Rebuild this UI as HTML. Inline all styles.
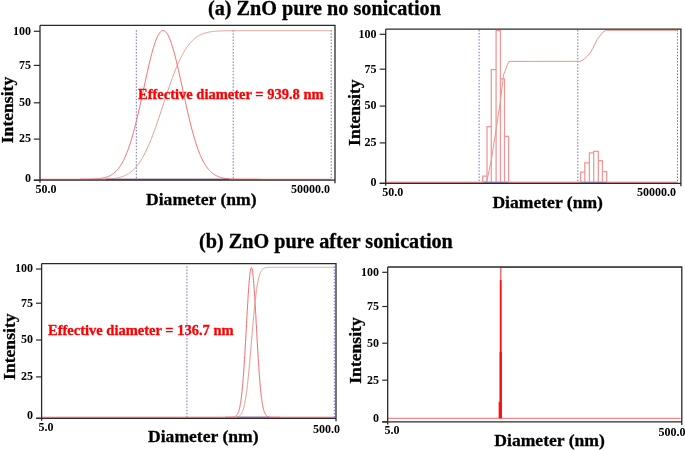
<!DOCTYPE html><html><head><meta charset="utf-8"><style>
html,body{margin:0;padding:0;background:#fff;width:685px;height:450px;overflow:hidden}
svg{display:block;will-change:transform} text{font-family:"Liberation Serif", serif;font-weight:bold;fill:#000;stroke:#000;stroke-width:0.3px}
.tk{font-size:12px;stroke-width:0}.ax{font-size:17.6px}.ti{font-size:20.2px}.ef{font-size:14.5px;fill:#fa0000;stroke:#fa0000}
</style></head><body>
<svg width="685" height="450" viewBox="0 0 685 450">
<text x="208" y="14.6" class="ti">(a) ZnO pure no sonication</text>
<text x="199" y="247.6" class="ti">(b) ZnO pure after sonication</text>
<line x1="136.3" y1="30.15" x2="136.3" y2="180" stroke="#6e6ec8" stroke-width="1" stroke-dasharray="1.5 1.62"/>
<line x1="233.2" y1="30.15" x2="233.2" y2="180" stroke="#6e6ec8" stroke-width="1" stroke-dasharray="1.5 1.62"/>
<line x1="331.2" y1="30.15" x2="331.2" y2="180" stroke="#6e6ec8" stroke-width="1" stroke-dasharray="1.5 1.62"/>
<line x1="40" y1="179.3" x2="331" y2="179.3" stroke="#f26a6a" stroke-width="1"/>
<path d="M80.0,179.28 L80.5,179.28 L81.0,179.28 L81.5,179.28 L82.0,179.27 L82.5,179.27 L83.0,179.27 L83.5,179.26 L84.0,179.26 L84.5,179.26 L85.0,179.25 L85.5,179.25 L86.0,179.24 L86.5,179.23 L87.0,179.23 L87.5,179.22 L88.0,179.21 L88.5,179.20 L89.0,179.19 L89.5,179.18 L90.0,179.17 L90.5,179.15 L91.0,179.14 L91.5,179.12 L92.0,179.11 L92.5,179.09 L93.0,179.07 L93.5,179.05 L94.0,179.02 L94.5,178.99 L95.0,178.97 L95.5,178.93 L96.0,178.90 L96.5,178.86 L97.0,178.82 L97.5,178.78 L98.0,178.73 L98.5,178.68 L99.0,178.63 L99.5,178.57 L100.0,178.51 L100.5,178.44 L101.0,178.37 L101.5,178.29 L102.0,178.20 L102.5,178.11 L103.0,178.01 L103.5,177.91 L104.0,177.79 L104.5,177.67 L105.0,177.54 L105.5,177.40 L106.0,177.25 L106.5,177.10 L107.0,176.93 L107.5,176.75 L108.0,176.55 L108.5,176.35 L109.0,176.13 L109.5,175.90 L110.0,175.65 L110.5,175.39 L111.0,175.11 L111.5,174.81 L112.0,174.50 L112.5,174.17 L113.0,173.81 L113.5,173.44 L114.0,173.05 L114.5,172.64 L115.0,172.20 L115.5,171.74 L116.0,171.25 L116.5,170.74 L117.0,170.20 L117.5,169.64 L118.0,169.04 L118.5,168.42 L119.0,167.77 L119.5,167.08 L120.0,166.36 L120.5,165.61 L121.0,164.83 L121.5,164.01 L122.0,163.16 L122.5,162.27 L123.0,161.34 L123.5,160.37 L124.0,159.37 L124.5,158.32 L125.0,157.24 L125.5,156.11 L126.0,154.95 L126.5,153.74 L127.0,152.48 L127.5,151.19 L128.0,149.85 L128.5,148.47 L129.0,147.05 L129.5,145.58 L130.0,144.07 L130.5,142.51 L131.0,140.91 L131.5,139.27 L132.0,137.59 L132.5,135.86 L133.0,134.09 L133.5,132.28 L134.0,130.43 L134.5,128.54 L135.0,126.62 L135.5,124.65 L136.0,122.65 L136.5,120.61 L137.0,118.54 L137.5,116.44 L138.0,114.31 L138.5,112.15 L139.0,109.97 L139.5,107.76 L140.0,105.53 L140.5,103.28 L141.0,101.01 L141.5,98.73 L142.0,96.44 L142.5,94.13 L143.0,91.82 L143.5,89.51 L144.0,87.20 L144.5,84.89 L145.0,82.58 L145.5,80.28 L146.0,78.00 L146.5,75.73 L147.0,73.48 L147.5,71.25 L148.0,69.05 L148.5,66.87 L149.0,64.73 L149.5,62.62 L150.0,60.56 L150.5,58.54 L151.0,56.56 L151.5,54.63 L152.0,52.76 L152.5,50.94 L153.0,49.18 L153.5,47.48 L154.0,45.85 L154.5,44.29 L155.0,42.80 L155.5,41.38 L156.0,40.04 L156.5,38.78 L157.0,37.61 L157.5,36.51 L158.0,35.50 L158.5,34.58 L159.0,33.75 L159.5,33.01 L160.0,32.37 L160.5,31.82 L161.0,31.36 L161.5,31.00 L162.0,30.74 L162.5,30.57 L163.0,30.50 L163.5,30.53 L164.0,30.66 L164.5,30.88 L165.0,31.20 L165.5,31.62 L166.0,32.14 L166.5,32.74 L167.0,33.45 L167.5,34.24 L168.0,35.12 L168.5,36.10 L169.0,37.16 L169.5,38.30 L170.0,39.53 L170.5,40.84 L171.0,42.22 L171.5,43.68 L172.0,45.22 L172.5,46.82 L173.0,48.49 L173.5,50.23 L174.0,52.02 L174.5,53.87 L175.0,55.78 L175.5,57.74 L176.0,59.74 L176.5,61.79 L177.0,63.88 L177.5,66.01 L178.0,68.17 L178.5,70.36 L179.0,72.58 L179.5,74.83 L180.0,77.09 L180.5,79.37 L181.0,81.66 L181.5,83.96 L182.0,86.27 L182.5,88.59 L183.0,90.90 L183.5,93.21 L184.0,95.52 L184.5,97.81 L185.0,100.10 L185.5,102.38 L186.0,104.63 L186.5,106.87 L187.0,109.09 L187.5,111.28 L188.0,113.45 L188.5,115.59 L189.0,117.71 L189.5,119.79 L190.0,121.84 L190.5,123.85 L191.0,125.83 L191.5,127.78 L192.0,129.68 L192.5,131.55 L193.0,133.37 L193.5,135.16 L194.0,136.90 L194.5,138.60 L195.0,140.26 L195.5,141.88 L196.0,143.45 L196.5,144.98 L197.0,146.47 L197.5,147.91 L198.0,149.31 L198.5,150.66 L199.0,151.97 L199.5,153.24 L200.0,154.47 L200.5,155.65 L201.0,156.79 L201.5,157.89 L202.0,158.95 L202.5,159.98 L203.0,160.96 L203.5,161.90 L204.0,162.81 L204.5,163.67 L205.0,164.51 L205.5,165.31 L206.0,166.07 L206.5,166.80 L207.0,167.50 L207.5,168.16 L208.0,168.80 L208.5,169.40 L209.0,169.98 L209.5,170.53 L210.0,171.05 L210.5,171.55 L211.0,172.02 L211.5,172.46 L212.0,172.89 L212.5,173.29 L213.0,173.67 L213.5,174.03 L214.0,174.37 L214.5,174.69 L215.0,174.99 L215.5,175.28 L216.0,175.55 L216.5,175.80 L217.0,176.04 L217.5,176.26 L218.0,176.47 L218.5,176.67 L219.0,176.86 L219.5,177.03 L220.0,177.19 L220.5,177.35 L221.0,177.49 L221.5,177.62 L222.0,177.75 L222.5,177.86 L223.0,177.97 L223.5,178.07 L224.0,178.17 L224.5,178.25 L225.0,178.34 L225.5,178.41 L226.0,178.48 L226.5,178.55 L227.0,178.61 L227.5,178.66 L228.0,178.71 L228.5,178.76 L229.0,178.81 L229.5,178.85 L230.0,178.89 L230.5,178.92 L231.0,178.95 L231.5,178.98 L232.0,179.01 L232.5,179.04 L233.0,179.06 L233.5,179.08 L234.0,179.10 L234.5,179.12 L235.0,179.13 L235.5,179.15 L236.0,179.16 L236.5,179.18 L237.0,179.19 L237.5,179.20 L238.0,179.21 L238.5,179.22 L239.0,179.22 L239.5,179.23 L240.0,179.24 L240.5,179.24 L241.0,179.25 L241.5,179.25 L242.0,179.26 L242.5,179.26 L243.0,179.27 L243.5,179.27 L244.0,179.27 L244.5,179.28 L245.0,179.28 L245.5,179.28 L246.0,179.28 L246.5,179.28 L247.0,179.29 L247.5,179.29 L248.0,179.29 L248.5,179.29 L249.0,179.29 L249.5,179.29 L250.0,179.29 L250.5,179.29 L251.0,179.29 L251.5,179.29 L252.0,179.30 L252.5,179.30 L253.0,179.30 L253.5,179.30 L254.0,179.30 L254.5,179.30 L255.0,179.30 L255.5,179.30 L256.0,179.30 L256.5,179.30 L257.0,179.30 L257.5,179.30 L258.0,179.30 L258.5,179.30 L259.0,179.30 L259.5,179.30 L260.0,179.30" fill="none" stroke="#f26a6a" stroke-width="1"/>
<path d="M80.0,179.30 L80.5,179.30 L81.0,179.30 L81.5,179.30 L82.0,179.30 L82.5,179.30 L83.0,179.30 L83.5,179.30 L84.0,179.30 L84.5,179.30 L85.0,179.30 L85.5,179.29 L86.0,179.29 L86.5,179.29 L87.0,179.29 L87.5,179.29 L88.0,179.29 L88.5,179.29 L89.0,179.29 L89.5,179.29 L90.0,179.29 L90.5,179.29 L91.0,179.28 L91.5,179.28 L92.0,179.28 L92.5,179.28 L93.0,179.28 L93.5,179.27 L94.0,179.27 L94.5,179.27 L95.0,179.26 L95.5,179.26 L96.0,179.26 L96.5,179.25 L97.0,179.25 L97.5,179.24 L98.0,179.24 L98.5,179.23 L99.0,179.22 L99.5,179.22 L100.0,179.21 L100.5,179.20 L101.0,179.19 L101.5,179.18 L102.0,179.17 L102.5,179.16 L103.0,179.15 L103.5,179.13 L104.0,179.12 L104.5,179.10 L105.0,179.09 L105.5,179.07 L106.0,179.05 L106.5,179.02 L107.0,179.00 L107.5,178.98 L108.0,178.95 L108.5,178.92 L109.0,178.89 L109.5,178.86 L110.0,178.82 L110.5,178.78 L111.0,178.74 L111.5,178.70 L112.0,178.65 L112.5,178.60 L113.0,178.54 L113.5,178.48 L114.0,178.42 L114.5,178.36 L115.0,178.29 L115.5,178.21 L116.0,178.13 L116.5,178.05 L117.0,177.96 L117.5,177.86 L118.0,177.76 L118.5,177.65 L119.0,177.54 L119.5,177.42 L120.0,177.29 L120.5,177.15 L121.0,177.01 L121.5,176.86 L122.0,176.70 L122.5,176.53 L123.0,176.35 L123.5,176.16 L124.0,175.96 L124.5,175.75 L125.0,175.53 L125.5,175.30 L126.0,175.06 L126.5,174.80 L127.0,174.54 L127.5,174.25 L128.0,173.96 L128.5,173.65 L129.0,173.33 L129.5,172.99 L130.0,172.64 L130.5,172.27 L131.0,171.89 L131.5,171.49 L132.0,171.07 L132.5,170.64 L133.0,170.18 L133.5,169.71 L134.0,169.22 L134.5,168.71 L135.0,168.19 L135.5,167.64 L136.0,167.07 L136.5,166.48 L137.0,165.87 L137.5,165.24 L138.0,164.59 L138.5,163.91 L139.0,163.21 L139.5,162.49 L140.0,161.75 L140.5,160.99 L141.0,160.20 L141.5,159.39 L142.0,158.55 L142.5,157.69 L143.0,156.81 L143.5,155.91 L144.0,154.98 L144.5,154.03 L145.0,153.05 L145.5,152.05 L146.0,151.03 L146.5,149.98 L147.0,148.91 L147.5,147.82 L148.0,146.70 L148.5,145.57 L149.0,144.41 L149.5,143.23 L150.0,142.02 L150.5,140.80 L151.0,139.56 L151.5,138.29 L152.0,137.01 L152.5,135.71 L153.0,134.39 L153.5,133.05 L154.0,131.69 L154.5,130.32 L155.0,128.93 L155.5,127.53 L156.0,126.12 L156.5,124.69 L157.0,123.25 L157.5,121.79 L158.0,120.33 L158.5,118.86 L159.0,117.37 L159.5,115.88 L160.0,114.38 L160.5,112.88 L161.0,111.37 L161.5,109.86 L162.0,108.34 L162.5,106.82 L163.0,105.30 L163.5,103.78 L164.0,102.26 L164.5,100.75 L165.0,99.23 L165.5,97.72 L166.0,96.22 L166.5,94.72 L167.0,93.22 L167.5,91.74 L168.0,90.26 L168.5,88.79 L169.0,87.33 L169.5,85.89 L170.0,84.45 L170.5,83.03 L171.0,81.62 L171.5,80.23 L172.0,78.85 L172.5,77.49 L173.0,76.15 L173.5,74.82 L174.0,73.51 L174.5,72.22 L175.0,70.95 L175.5,69.70 L176.0,68.46 L176.5,67.25 L177.0,66.06 L177.5,64.90 L178.0,63.75 L178.5,62.63 L179.0,61.52 L179.5,60.44 L180.0,59.39 L180.5,58.36 L181.0,57.35 L181.5,56.36 L182.0,55.40 L182.5,54.46 L183.0,53.55 L183.5,52.65 L184.0,51.79 L184.5,50.94 L185.0,50.12 L185.5,49.32 L186.0,48.55 L186.5,47.80 L187.0,47.07 L187.5,46.36 L188.0,45.68 L188.5,45.02 L189.0,44.38 L189.5,43.76 L190.0,43.16 L190.5,42.59 L191.0,42.03 L191.5,41.49 L192.0,40.98 L192.5,40.48 L193.0,40.00 L193.5,39.54 L194.0,39.10 L194.5,38.68 L195.0,38.27 L195.5,37.88 L196.0,37.50 L196.5,37.15 L197.0,36.80 L197.5,36.47 L198.0,36.16 L198.5,35.86 L199.0,35.58 L199.5,35.30 L200.0,35.04 L200.5,34.80 L201.0,34.56 L201.5,34.34 L202.0,34.12 L202.5,33.92 L203.0,33.73 L203.5,33.54 L204.0,33.37 L204.5,33.21 L205.0,33.05 L205.5,32.91 L206.0,32.77 L206.5,32.63 L207.0,32.51 L207.5,32.39 L208.0,32.28 L208.5,32.18 L209.0,32.08 L209.5,31.99 L210.0,31.90 L210.5,31.82 L211.0,31.74 L211.5,31.67 L212.0,31.60 L212.5,31.54 L213.0,31.48 L213.5,31.42 L214.0,31.37 L214.5,31.32 L215.0,31.28 L215.5,31.24 L216.0,31.20 L216.5,31.16 L217.0,31.12 L217.5,31.09 L218.0,31.06 L218.5,31.03 L219.0,31.01 L219.5,30.98 L220.0,30.96 L220.5,30.94 L221.0,30.92 L221.5,30.90 L222.0,30.89 L222.5,30.87 L223.0,30.86 L223.5,30.85 L224.0,30.83 L224.5,30.82 L225.0,30.81 L225.5,30.80 L226.0,30.79 L226.5,30.79 L227.0,30.78 L227.5,30.77 L228.0,30.76 L228.5,30.76 L229.0,30.75 L229.5,30.75 L230.0,30.74 L230.5,30.74 L231.0,30.74 L231.5,30.73 L232.0,30.73 L232.5,30.73 L233.0,30.73 L233.5,30.72 L234.0,30.72 L234.5,30.72 L235.0,30.72 L235.5,30.72 L236.0,30.71 L236.5,30.71 L237.0,30.71 L237.5,30.71 L238.0,30.71 L238.5,30.71 L239.0,30.71 L239.5,30.71 L240.0,30.71 L240.5,30.71 L241.0,30.70 L241.5,30.70 L242.0,30.70 L242.5,30.70 L243.0,30.70 L243.5,30.70 L244.0,30.70 L244.5,30.70 L245.0,30.70 L245.5,30.70 L246.0,30.70 L246.5,30.70 L247.0,30.70 L247.5,30.70 L248.0,30.70 L248.5,30.70 L249.0,30.70 L249.5,30.70 L250.0,30.70 L250.5,30.70 L251.0,30.70 L251.5,30.70 L252.0,30.70 L252.5,30.70 L253.0,30.70 L253.5,30.70 L254.0,30.70 L254.5,30.70 L255.0,30.70 L255.5,30.70 L256.0,30.70 L256.5,30.70 L257.0,30.70 L257.5,30.70 L258.0,30.70 L258.5,30.70 L259.0,30.70 L259.5,30.70 L260.0,30.70 L260.5,30.70 L261.0,30.70 L261.5,30.70 L262.0,30.70 L262.5,30.70 L263.0,30.70 L263.5,30.70 L264.0,30.70 L264.5,30.70 L265.0,30.70 L265.5,30.70 L266.0,30.70 L266.5,30.70 L267.0,30.70 L267.5,30.70 L268.0,30.70 L268.5,30.70 L269.0,30.70 L269.5,30.70 L270.0,30.70 L270.5,30.70 L271.0,30.70 L271.5,30.70 L272.0,30.70 L272.5,30.70 L273.0,30.70 L273.5,30.70 L274.0,30.70 L274.5,30.70 L275.0,30.70 L275.5,30.70 L276.0,30.70 L276.5,30.70 L277.0,30.70 L277.5,30.70 L278.0,30.70 L278.5,30.70 L279.0,30.70 L279.5,30.70 L280.0,30.70 L280.5,30.70 L281.0,30.70 L281.5,30.70 L282.0,30.70 L282.5,30.70 L283.0,30.70 L283.5,30.70 L284.0,30.70 L284.5,30.70 L285.0,30.70 L285.5,30.70 L286.0,30.70 L286.5,30.70 L287.0,30.70 L287.5,30.70 L288.0,30.70 L288.5,30.70 L289.0,30.70 L289.5,30.70 L290.0,30.70 L290.5,30.70 L291.0,30.70 L291.5,30.70 L292.0,30.70 L292.5,30.70 L293.0,30.70 L293.5,30.70 L294.0,30.70 L294.5,30.70 L295.0,30.70 L295.5,30.70 L296.0,30.70 L296.5,30.70 L297.0,30.70 L297.5,30.70 L298.0,30.70 L298.5,30.70 L299.0,30.70 L299.5,30.70 L300.0,30.70 L300.5,30.70 L301.0,30.70 L301.5,30.70 L302.0,30.70 L302.5,30.70 L303.0,30.70 L303.5,30.70 L304.0,30.70 L304.5,30.70 L305.0,30.70 L305.5,30.70 L306.0,30.70 L306.5,30.70 L307.0,30.70 L307.5,30.70 L308.0,30.70 L308.5,30.70 L309.0,30.70 L309.5,30.70 L310.0,30.70 L310.5,30.70 L311.0,30.70 L311.5,30.70 L312.0,30.70 L312.5,30.70 L313.0,30.70 L313.5,30.70 L314.0,30.70 L314.5,30.70 L315.0,30.70 L315.5,30.70 L316.0,30.70 L316.5,30.70 L317.0,30.70 L317.5,30.70 L318.0,30.70 L318.5,30.70 L319.0,30.70 L319.5,30.70 L320.0,30.70 L320.5,30.70 L321.0,30.70 L321.5,30.70 L322.0,30.70 L322.5,30.70 L323.0,30.70 L323.5,30.70 L324.0,30.70 L324.5,30.70 L325.0,30.70 L325.5,30.70 L326.0,30.70 L326.5,30.70 L327.0,30.70 L327.5,30.70 L328.0,30.70 L328.5,30.70 L329.0,30.70 L329.5,30.70 L330.0,30.70 L330.5,30.70 L331.0,30.70" fill="none" stroke="#e0998a" stroke-width="1"/>
<line x1="106" y1="179.4" x2="229" y2="179.4" stroke="#5c5e98" stroke-width="1.2"/>
<path d="M40,25.3 H335 V183.2 M40,25.3 V182.7 M33.8,180.2 H335" fill="none" stroke="#2a2a2a" stroke-width="1.3"/>
<line x1="33.8" y1="31.3" x2="40" y2="31.3" stroke="#2a2a2a" stroke-width="1.2"/>
<text x="31" y="34.6" text-anchor="end" class="tk">100</text>
<line x1="33.8" y1="65.4" x2="40" y2="65.4" stroke="#2a2a2a" stroke-width="1.2"/>
<text x="31" y="68.7" text-anchor="end" class="tk">75</text>
<line x1="33.8" y1="102.8" x2="40" y2="102.8" stroke="#2a2a2a" stroke-width="1.2"/>
<text x="31" y="106.1" text-anchor="end" class="tk">50</text>
<line x1="33.8" y1="139.1" x2="40" y2="139.1" stroke="#2a2a2a" stroke-width="1.2"/>
<text x="31" y="142.4" text-anchor="end" class="tk">25</text>
<line x1="33.8" y1="180.3" x2="40" y2="180.3" stroke="#2a2a2a" stroke-width="1.2"/>
<text x="31" y="182.4" text-anchor="end" class="tk">0</text>
<text x="35.5" y="192.8" class="tk">50.0</text>
<text x="330" y="192.8" text-anchor="end" class="tk">50000.0</text>
<text x="146" y="204.6" class="ax">Diameter (nm)</text>
<text transform="translate(13.3,110) rotate(-90)" text-anchor="middle" class="ax">Intensity</text>
<text x="138" y="99" class="ef">Effective diameter = 939.8 nm</text>
<line x1="479.1" y1="29.85" x2="479.1" y2="183" stroke="#6e6ec8" stroke-width="1" stroke-dasharray="1.5 1.62"/>
<line x1="577.8" y1="29.85" x2="577.8" y2="183" stroke="#6e6ec8" stroke-width="1" stroke-dasharray="1.5 1.62"/>
<line x1="677.5" y1="29.85" x2="677.5" y2="183" stroke="#6e6ec8" stroke-width="1" stroke-dasharray="1.5 1.62"/>
<line x1="385.7" y1="182.2" x2="677.5" y2="182.2" stroke="#f26a6a" stroke-width="1"/>
<path d="M482.7,182.2 V176.2 H487.0 V182.2 M487.0,182.2 V126.5 H491.3 V182.2 M491.3,182.2 V69.6 H496.1 V182.2 M496.1,182.2 V30.5 H500.4 V182.2 M500.4,182.2 V78.8 H504.5 V182.2 M504.5,182.2 V136.4 H508.6 V182.2 " fill="none" stroke="#f39496" stroke-width="1.25"/>
<path d="M580.6,182.2 V172.2 H584.8 V182.2 M584.8,182.2 V162.8 H589.4 V182.2 M589.4,182.2 V152.8 H593.7 V182.2 M593.7,182.2 V151.3 H598.3 V182.2 M598.3,182.2 V160.6 H602.4 V182.2 M602.4,182.2 V171.7 H606.7 V182.2 " fill="none" stroke="#f39496" stroke-width="1.25"/>
<path d="M482.7,182.2 L486.8,181.5 L491.5,159 L496,130 L500.3,102 L503.5,75 L508.8,61.4 L580,61.3 L584,59.4 L590,53.3 L592.8,48.3 L597.2,39.4 L602.8,32.2 L606.1,30.3 L677.5,30.3" fill="none" stroke="#e0998a" stroke-width="1"/>
<line x1="484" y1="182.3" x2="508.5" y2="182.3" stroke="#8084c8" stroke-width="1"/>
<line x1="580.5" y1="182.3" x2="606.5" y2="182.3" stroke="#8084c8" stroke-width="1"/>
<path d="M385.7,29.2 H680.9 V186.3 M385.7,29.2 V185.8 M379.7,183.3 H680.9" fill="none" stroke="#2a2a2a" stroke-width="1.3"/>
<line x1="379.7" y1="34.3" x2="385.7" y2="34.3" stroke="#2a2a2a" stroke-width="1.2"/>
<text x="376.5" y="37.599999999999994" text-anchor="end" class="tk">100</text>
<line x1="379.7" y1="69.2" x2="385.7" y2="69.2" stroke="#2a2a2a" stroke-width="1.2"/>
<text x="376.5" y="72.5" text-anchor="end" class="tk">75</text>
<line x1="379.7" y1="106.1" x2="385.7" y2="106.1" stroke="#2a2a2a" stroke-width="1.2"/>
<text x="376.5" y="109.39999999999999" text-anchor="end" class="tk">50</text>
<line x1="379.7" y1="142.9" x2="385.7" y2="142.9" stroke="#2a2a2a" stroke-width="1.2"/>
<text x="376.5" y="146.20000000000002" text-anchor="end" class="tk">25</text>
<line x1="379.7" y1="183.3" x2="385.7" y2="183.3" stroke="#2a2a2a" stroke-width="1.2"/>
<text x="376.5" y="185.70000000000002" text-anchor="end" class="tk">0</text>
<text x="382.3" y="196" class="tk">50.0</text>
<text x="676" y="196" text-anchor="end" class="tk">50000.0</text>
<text x="492.4" y="208.4" class="ax">Diameter (nm)</text>
<text transform="translate(360,112.7) rotate(-90)" text-anchor="middle" class="ax">Intensity</text>
<line x1="186.9" y1="266.3" x2="186.9" y2="418" stroke="#6e6ec8" stroke-width="1" stroke-dasharray="1.5 1.62"/>
<line x1="334.3" y1="266.3" x2="334.3" y2="418" stroke="#6e6ec8" stroke-width="1" stroke-dasharray="1.5 1.62"/>
<line x1="41.6" y1="417.2" x2="334" y2="417.2" stroke="#f26a6a" stroke-width="1"/>
<path d="M225.0,417.20 L225.2,417.20 L225.5,417.20 L225.8,417.20 L226.0,417.20 L226.2,417.20 L226.5,417.20 L226.8,417.20 L227.0,417.20 L227.2,417.20 L227.5,417.20 L227.8,417.20 L228.0,417.20 L228.2,417.20 L228.5,417.20 L228.8,417.19 L229.0,417.19 L229.2,417.19 L229.5,417.19 L229.8,417.19 L230.0,417.18 L230.2,417.18 L230.5,417.18 L230.8,417.17 L231.0,417.16 L231.2,417.16 L231.5,417.15 L231.8,417.13 L232.0,417.12 L232.2,417.10 L232.5,417.08 L232.8,417.06 L233.0,417.03 L233.2,416.99 L233.5,416.95 L233.8,416.91 L234.0,416.85 L234.2,416.78 L234.5,416.71 L234.8,416.62 L235.0,416.51 L235.2,416.39 L235.5,416.25 L235.8,416.08 L236.0,415.90 L236.2,415.68 L236.5,415.44 L236.8,415.15 L237.0,414.84 L237.2,414.47 L237.5,414.06 L237.8,413.60 L238.0,413.08 L238.2,412.49 L238.5,411.84 L238.8,411.10 L239.0,410.29 L239.2,409.39 L239.5,408.39 L239.8,407.29 L240.0,406.08 L240.2,404.75 L240.5,403.30 L240.8,401.72 L241.0,400.00 L241.2,398.14 L241.5,396.13 L241.8,393.97 L242.0,391.65 L242.2,389.16 L242.5,386.52 L242.8,383.70 L243.0,380.72 L243.2,377.57 L243.5,374.26 L243.8,370.79 L244.0,367.16 L244.2,363.39 L244.5,359.47 L244.8,355.42 L245.0,351.26 L245.2,346.99 L245.5,342.63 L245.8,338.19 L246.0,333.71 L246.2,329.18 L246.5,324.65 L246.8,320.12 L247.0,315.63 L247.2,311.19 L247.5,306.84 L247.8,302.59 L248.0,298.48 L248.2,294.53 L248.5,290.76 L248.8,287.20 L249.0,283.88 L249.2,280.81 L249.5,278.02 L249.8,275.53 L250.0,273.35 L250.2,271.51 L250.5,270.00 L250.8,268.86 L251.0,268.08 L251.2,267.67 L251.5,267.63 L251.8,267.97 L252.0,268.67 L252.2,269.75 L252.5,271.18 L252.8,272.95 L253.0,275.07 L253.2,277.50 L253.5,280.23 L253.8,283.24 L254.0,286.52 L254.2,290.03 L254.5,293.76 L254.8,297.68 L255.0,301.76 L255.2,305.98 L255.5,310.31 L255.8,314.74 L256.0,319.22 L256.2,323.74 L256.5,328.28 L256.8,332.80 L257.0,337.30 L257.2,341.75 L257.5,346.12 L257.8,350.41 L258.0,354.60 L258.2,358.67 L258.5,362.61 L258.8,366.42 L259.0,370.08 L259.2,373.58 L259.5,376.92 L259.8,380.10 L260.0,383.12 L260.2,385.97 L260.5,388.65 L260.8,391.16 L261.0,393.52 L261.2,395.71 L261.5,397.75 L261.8,399.64 L262.0,401.39 L262.2,403.00 L262.5,404.47 L262.8,405.82 L263.0,407.06 L263.2,408.18 L263.5,409.20 L263.8,410.12 L264.0,410.95 L264.2,411.70 L264.5,412.37 L264.8,412.96 L265.0,413.50 L265.2,413.97 L265.5,414.39 L265.8,414.77 L266.0,415.09 L266.2,415.38 L266.5,415.64 L266.8,415.86 L267.0,416.05 L267.2,416.22 L267.5,416.36 L267.8,416.49 L268.0,416.60 L268.2,416.69 L268.5,416.77 L268.8,416.84 L269.0,416.89 L269.2,416.94 L269.5,416.99 L269.8,417.02 L270.0,417.05 L270.2,417.08 L270.5,417.10 L270.8,417.12 L271.0,417.13 L271.2,417.14 L271.5,417.15 L271.8,417.16 L272.0,417.17 L272.2,417.17 L272.5,417.18 L272.8,417.18 L273.0,417.19 L273.2,417.19 L273.5,417.19 L273.8,417.19 L274.0,417.19 L274.2,417.20 L274.5,417.20 L274.8,417.20 L275.0,417.20 L275.2,417.20 L275.5,417.20 L275.8,417.20 L276.0,417.20 L276.2,417.20 L276.5,417.20 L276.8,417.20 L277.0,417.20 L277.2,417.20 L277.5,417.20 L277.8,417.20 L278.0,417.20 L278.2,417.20 L278.5,417.20 L278.8,417.20 L279.0,417.20 L279.2,417.20 L279.5,417.20 L279.8,417.20 L280.0,417.20" fill="none" stroke="#f26a6a" stroke-width="1"/>
<path d="M225.0,417.20 L225.2,417.20 L225.5,417.20 L225.8,417.20 L226.0,417.20 L226.2,417.20 L226.5,417.20 L226.8,417.20 L227.0,417.20 L227.2,417.20 L227.5,417.20 L227.8,417.20 L228.0,417.20 L228.2,417.20 L228.5,417.20 L228.8,417.20 L229.0,417.20 L229.2,417.20 L229.5,417.20 L229.8,417.20 L230.0,417.20 L230.2,417.20 L230.5,417.20 L230.8,417.20 L231.0,417.20 L231.2,417.20 L231.5,417.19 L231.8,417.19 L232.0,417.19 L232.2,417.19 L232.5,417.19 L232.8,417.19 L233.0,417.18 L233.2,417.18 L233.5,417.17 L233.8,417.17 L234.0,417.16 L234.2,417.15 L234.5,417.15 L234.8,417.13 L235.0,417.12 L235.2,417.11 L235.5,417.09 L235.8,417.07 L236.0,417.04 L236.2,417.02 L236.5,416.98 L236.8,416.95 L237.0,416.90 L237.2,416.85 L237.5,416.79 L237.8,416.73 L238.0,416.65 L238.2,416.56 L238.5,416.46 L238.8,416.35 L239.0,416.22 L239.2,416.07 L239.5,415.90 L239.8,415.72 L240.0,415.51 L240.2,415.27 L240.5,415.01 L240.8,414.71 L241.0,414.39 L241.2,414.03 L241.5,413.62 L241.8,413.18 L242.0,412.69 L242.2,412.16 L242.5,411.57 L242.8,410.93 L243.0,410.23 L243.2,409.47 L243.5,408.65 L243.8,407.76 L244.0,406.79 L244.2,405.75 L244.5,404.64 L244.8,403.45 L245.0,402.17 L245.2,400.81 L245.5,399.36 L245.8,397.83 L246.0,396.20 L246.2,394.49 L246.5,392.68 L246.8,390.79 L247.0,388.80 L247.2,386.73 L247.5,384.57 L247.8,382.32 L248.0,379.99 L248.2,377.57 L248.5,375.08 L248.8,372.52 L249.0,369.89 L249.2,367.19 L249.5,364.44 L249.8,361.63 L250.0,358.78 L250.2,355.88 L250.5,352.96 L250.8,350.00 L251.0,347.03 L251.2,344.04 L251.5,341.05 L251.8,338.07 L252.0,335.09 L252.2,332.13 L252.5,329.20 L252.8,326.30 L253.0,323.44 L253.2,320.62 L253.5,317.85 L253.8,315.14 L254.0,312.50 L254.2,309.92 L254.5,307.42 L254.8,304.99 L255.0,302.64 L255.2,300.38 L255.5,298.20 L255.8,296.10 L256.0,294.10 L256.2,292.19 L256.5,290.36 L256.8,288.63 L257.0,286.99 L257.2,285.44 L257.5,283.97 L257.8,282.60 L258.0,281.30 L258.2,280.09 L258.5,278.96 L258.8,277.91 L259.0,276.93 L259.2,276.03 L259.5,275.19 L259.8,274.41 L260.0,273.70 L260.2,273.05 L260.5,272.45 L260.8,271.91 L261.0,271.41 L261.2,270.96 L261.5,270.55 L261.8,270.18 L262.0,269.85 L262.2,269.55 L262.5,269.28 L262.8,269.04 L263.0,268.82 L263.2,268.63 L263.5,268.46 L263.8,268.31 L264.0,268.18 L264.2,268.06 L264.5,267.96 L264.8,267.87 L265.0,267.79 L265.2,267.72 L265.5,267.66 L265.8,267.61 L266.0,267.56 L266.2,267.52 L266.5,267.49 L266.8,267.46 L267.0,267.44 L267.2,267.41 L267.5,267.40 L267.8,267.38 L268.0,267.37 L268.2,267.36 L268.5,267.35 L268.8,267.34 L269.0,267.33 L269.2,267.33 L269.5,267.32 L269.8,267.32 L270.0,267.31 L270.2,267.31 L270.5,267.31 L270.8,267.31 L271.0,267.31 L271.2,267.31 L271.5,267.30 L271.8,267.30 L272.0,267.30 L272.2,267.30 L272.5,267.30 L272.8,267.30 L273.0,267.30 L273.2,267.30 L273.5,267.30 L273.8,267.30 L274.0,267.30 L274.2,267.30 L274.5,267.30 L274.8,267.30 L275.0,267.30 L275.2,267.30 L275.5,267.30 L275.8,267.30 L276.0,267.30 L276.2,267.30 L276.5,267.30 L276.8,267.30 L277.0,267.30 L277.2,267.30 L277.5,267.30 L277.8,267.30 L278.0,267.30 L278.2,267.30 L278.5,267.30 L278.8,267.30 L279.0,267.30 L279.2,267.30 L279.5,267.30 L279.8,267.30 L280.0,267.30 L280.2,267.30 L280.5,267.30 L280.8,267.30 L281.0,267.30 L281.2,267.30 L281.5,267.30 L281.8,267.30 L282.0,267.30 L282.2,267.30 L282.5,267.30 L282.8,267.30 L283.0,267.30 L283.2,267.30 L283.5,267.30 L283.8,267.30 L284.0,267.30 L284.2,267.30 L284.5,267.30 L284.8,267.30 L285.0,267.30 L285.2,267.30 L285.5,267.30 L285.8,267.30 L286.0,267.30 L286.2,267.30 L286.5,267.30 L286.8,267.30 L287.0,267.30 L287.2,267.30 L287.5,267.30 L287.8,267.30 L288.0,267.30 L288.2,267.30 L288.5,267.30 L288.8,267.30 L289.0,267.30 L289.2,267.30 L289.5,267.30 L289.8,267.30 L290.0,267.30 L290.2,267.30 L290.5,267.30 L290.8,267.30 L291.0,267.30 L291.2,267.30 L291.5,267.30 L291.8,267.30 L292.0,267.30 L292.2,267.30 L292.5,267.30 L292.8,267.30 L293.0,267.30 L293.2,267.30 L293.5,267.30 L293.8,267.30 L294.0,267.30 L294.2,267.30 L294.5,267.30 L294.8,267.30 L295.0,267.30 L295.2,267.30 L295.5,267.30 L295.8,267.30 L296.0,267.30 L296.2,267.30 L296.5,267.30 L296.8,267.30 L297.0,267.30 L297.2,267.30 L297.5,267.30 L297.8,267.30 L298.0,267.30 L298.2,267.30 L298.5,267.30 L298.8,267.30 L299.0,267.30 L299.2,267.30 L299.5,267.30 L299.8,267.30 L300.0,267.30 L300.2,267.30 L300.5,267.30 L300.8,267.30 L301.0,267.30 L301.2,267.30 L301.5,267.30 L301.8,267.30 L302.0,267.30 L302.2,267.30 L302.5,267.30 L302.8,267.30 L303.0,267.30 L303.2,267.30 L303.5,267.30 L303.8,267.30 L304.0,267.30 L304.2,267.30 L304.5,267.30 L304.8,267.30 L305.0,267.30 L305.2,267.30 L305.5,267.30 L305.8,267.30 L306.0,267.30 L306.2,267.30 L306.5,267.30 L306.8,267.30 L307.0,267.30 L307.2,267.30 L307.5,267.30 L307.8,267.30 L308.0,267.30 L308.2,267.30 L308.5,267.30 L308.8,267.30 L309.0,267.30 L309.2,267.30 L309.5,267.30 L309.8,267.30 L310.0,267.30 L310.2,267.30 L310.5,267.30 L310.8,267.30 L311.0,267.30 L311.2,267.30 L311.5,267.30 L311.8,267.30 L312.0,267.30 L312.2,267.30 L312.5,267.30 L312.8,267.30 L313.0,267.30 L313.2,267.30 L313.5,267.30 L313.8,267.30 L314.0,267.30 L314.2,267.30 L314.5,267.30 L314.8,267.30 L315.0,267.30 L315.2,267.30 L315.5,267.30 L315.8,267.30 L316.0,267.30 L316.2,267.30 L316.5,267.30 L316.8,267.30 L317.0,267.30 L317.2,267.30 L317.5,267.30 L317.8,267.30 L318.0,267.30 L318.2,267.30 L318.5,267.30 L318.8,267.30 L319.0,267.30 L319.2,267.30 L319.5,267.30 L319.8,267.30 L320.0,267.30 L320.2,267.30 L320.5,267.30 L320.8,267.30 L321.0,267.30 L321.2,267.30 L321.5,267.30 L321.8,267.30 L322.0,267.30 L322.2,267.30 L322.5,267.30 L322.8,267.30 L323.0,267.30 L323.2,267.30 L323.5,267.30 L323.8,267.30 L324.0,267.30 L324.2,267.30 L324.5,267.30 L324.8,267.30 L325.0,267.30 L325.2,267.30 L325.5,267.30 L325.8,267.30 L326.0,267.30 L326.2,267.30 L326.5,267.30 L326.8,267.30 L327.0,267.30 L327.2,267.30 L327.5,267.30 L327.8,267.30 L328.0,267.30 L328.2,267.30 L328.5,267.30 L328.8,267.30 L329.0,267.30 L329.2,267.30 L329.5,267.30 L329.8,267.30 L330.0,267.30 L330.2,267.30 L330.5,267.30 L330.8,267.30 L331.0,267.30 L331.2,267.30 L331.5,267.30 L331.8,267.30 L332.0,267.30 L332.2,267.30 L332.5,267.30 L332.8,267.30 L333.0,267.30 L333.2,267.30 L333.5,267.30 L333.8,267.30 L334.0,267.30" fill="none" stroke="#e0998a" stroke-width="1"/>
<line x1="237" y1="417.2" x2="269" y2="417.2" stroke="#8084c8" stroke-width="1.2"/>
<path d="M41.6,263.6 H336 V421.3 M41.6,263.6 V420.8 M36,418.3 H336" fill="none" stroke="#2a2a2a" stroke-width="1.3"/>
<line x1="36" y1="269" x2="41.6" y2="269" stroke="#2a2a2a" stroke-width="1.2"/>
<text x="33" y="272.3" text-anchor="end" class="tk">100</text>
<line x1="36" y1="303.2" x2="41.6" y2="303.2" stroke="#2a2a2a" stroke-width="1.2"/>
<text x="33" y="306.5" text-anchor="end" class="tk">75</text>
<line x1="36" y1="340" x2="41.6" y2="340" stroke="#2a2a2a" stroke-width="1.2"/>
<text x="33" y="343.3" text-anchor="end" class="tk">50</text>
<line x1="36" y1="376.9" x2="41.6" y2="376.9" stroke="#2a2a2a" stroke-width="1.2"/>
<text x="33" y="380.2" text-anchor="end" class="tk">25</text>
<line x1="36" y1="418.3" x2="41.6" y2="418.3" stroke="#2a2a2a" stroke-width="1.2"/>
<text x="33" y="418.7" text-anchor="end" class="tk">0</text>
<text x="38.5" y="431" class="tk">5.0</text>
<text x="340" y="433" text-anchor="end" class="tk">500.0</text>
<text x="148" y="442.4" class="ax">Diameter (nm)</text>
<text transform="translate(15.1,346.7) rotate(-90)" text-anchor="middle" class="ax">Intensity</text>
<text x="48" y="334.9" class="ef">Effective diameter = 136.7 nm</text>
<line x1="387.7" y1="418.3" x2="680.6" y2="418.3" stroke="#f26a6a" stroke-width="1"/>
<line x1="500.5" y1="267.5" x2="681" y2="267.5" stroke="#e0998a" stroke-width="1"/>
<line x1="500.7" y1="267" x2="500.7" y2="280" stroke="#f07070" stroke-width="1.5"/>
<line x1="500.7" y1="280" x2="500.7" y2="352" stroke="#f41414" stroke-width="1.9"/>
<line x1="500.7" y1="352" x2="500.7" y2="402" stroke="#f81010" stroke-width="2.5"/>
<line x1="500.3" y1="402" x2="500.3" y2="418.3" stroke="#f81010" stroke-width="3.3"/>
<path d="M387.7,267 H681.8 V424.9 M387.7,267 V424.4 M382.2,421.9 H681.8" fill="none" stroke="#2a2a2a" stroke-width="1.3"/>
<line x1="382.2" y1="272.3" x2="387.7" y2="272.3" stroke="#2a2a2a" stroke-width="1.2"/>
<text x="379" y="275.6" text-anchor="end" class="tk">100</text>
<line x1="382.2" y1="306.5" x2="387.7" y2="306.5" stroke="#2a2a2a" stroke-width="1.2"/>
<text x="379" y="309.8" text-anchor="end" class="tk">75</text>
<line x1="382.2" y1="343.2" x2="387.7" y2="343.2" stroke="#2a2a2a" stroke-width="1.2"/>
<text x="379" y="346.5" text-anchor="end" class="tk">50</text>
<line x1="382.2" y1="380.2" x2="387.7" y2="380.2" stroke="#2a2a2a" stroke-width="1.2"/>
<text x="379" y="383.5" text-anchor="end" class="tk">25</text>
<line x1="382.2" y1="421.9" x2="387.7" y2="421.9" stroke="#2a2a2a" stroke-width="1.2"/>
<text x="379" y="422.09999999999997" text-anchor="end" class="tk">0</text>
<text x="384.5" y="434.3" class="tk">5.0</text>
<text x="685.5" y="436.3" text-anchor="end" class="tk">500.0</text>
<text x="494.3" y="446.2" class="ax">Diameter (nm)</text>
<text transform="translate(361.1,350.5) rotate(-90)" text-anchor="middle" class="ax">Intensity</text>
</svg></body></html>
